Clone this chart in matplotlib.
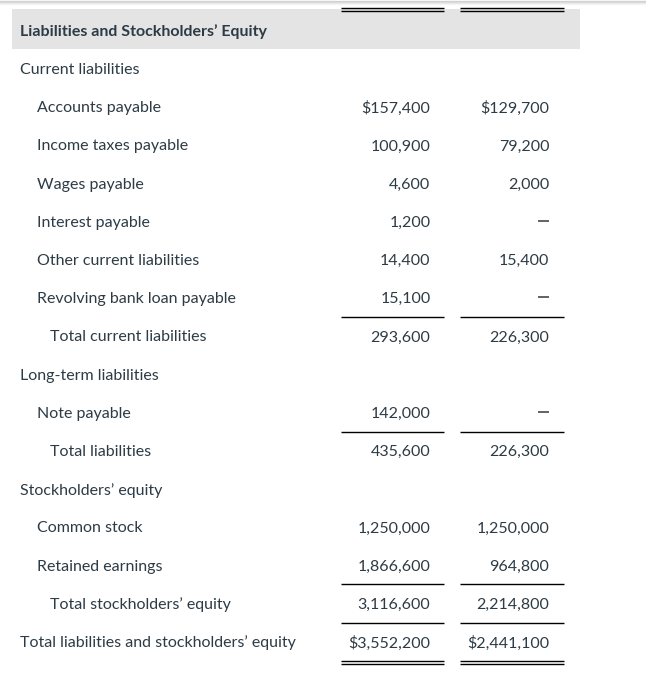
import matplotlib
matplotlib.use("Agg")
import matplotlib.pyplot as plt

# ---- data ----
header = "Liabilities and Stockholders\u2019 Equity"
labels = [
    "Current liabilities",
    "Accounts payable",
    "Income taxes payable",
    "Wages payable",
    "Interest payable",
    "Other current liabilities",
    "Revolving bank loan payable",
    "Total current liabilities",
    "Long-term liabilities",
    "Note payable",
    "Total liabilities",
    "Stockholders\u2019 equity",
    "Common stock",
    "Retained earnings",
    "Total stockholders\u2019 equity",
    "Total liabilities and stockholders\u2019 equity",
]
indent = [0, 1, 1, 1, 1, 1, 1, 2, 0, 1, 2, 0, 1, 1, 2, 0]
col1 = [None, 157400, 100900, 4600, 1200, 14400, 15100, 293600,
        None, 142000, 435600, None, 1250000, 1866600, 3116600, 3552200]
col2 = [None, 129700, 79200, 2000, 0, 15400, 0, 226300,
        None, 0, 226300, None, 1250000, 964800, 2214800, 2441100]
dollar_rows = [1, 15]
single_rule_after = [6, 9, 13, 14]
double_rule_after = [15]

# ---- layout ----
W, H = 646, 689
fig = plt.figure(figsize=(W / 100, H / 100), dpi=100)
ax = fig.add_axes([0, 0, 1, 1])
ax.set_xlim(0, W)
ax.set_ylim(H, 0)
ax.axis("off")

txt_color = "#2d3b45"
font = ["Lato", "DejaVu Sans"]
fs = 11.5

# top shadow
for i, a in enumerate([0.35, 0.22, 0.12, 0.06]):
    ax.plot([0, W], [i + 0.5, i + 0.5], color="#888888", alpha=a, lw=1)

# header band
ax.add_patch(plt.Rectangle((12, 9), 568, 40, color="#e4e4e4", lw=0, zorder=0))
ax.text(20.5, 31.5, header, fontsize=fs, fontweight="bold", family=font,
        color=txt_color, va="center", ha="left")

c1 = (341, 444)
c2 = (460, 564)
r1, r2 = 430.5, 549.5


def double(y, xs):
    ax.plot(xs, [y, y], color="black", lw=1.0, solid_capstyle="butt")
    ax.plot(xs, [y + 2.6, y + 2.6], color="black", lw=1.0, solid_capstyle="butt")


double(8.3, c1)
double(8.3, c2)

y0, dy = 70, 38.2
xs_ind = [20.5, 37, 49.5]
for i, lab in enumerate(labels):
    y = y0 + i * dy
    ax.text(xs_ind[indent[i]], y, lab, fontsize=fs, family=font,
            color=txt_color, va="center", ha="left")
    for v, rx in ((col1[i], r1), (col2[i], r2)):
        if v is None:
            continue
        if v == 0:
            ax.plot([rx - 11.5, rx - 0.5], [y - 2, y - 2], color=txt_color,
                    lw=1.1, solid_capstyle="butt")
            continue
        s = ("$" if i in dollar_rows else "") + f"{v:,}"
        ax.text(rx, y, s, fontsize=fs, family=font, color=txt_color,
                va="center", ha="right")
    yl = y0 + (i - 1) * dy + dy / 2 + (y - y0 - i * dy)
    if i in single_rule_after:
        yl = y + dy / 2 - 1.3
        for xs in (c1, c2):
            ax.plot(xs, [yl, yl], color="black", lw=1.0, solid_capstyle="butt")
    if i in double_rule_after:
        yl = y + dy / 2 - 1
        double(yl, c1)
        double(yl, c2)

fig.savefig("out.png", dpi=100, facecolor="white")
